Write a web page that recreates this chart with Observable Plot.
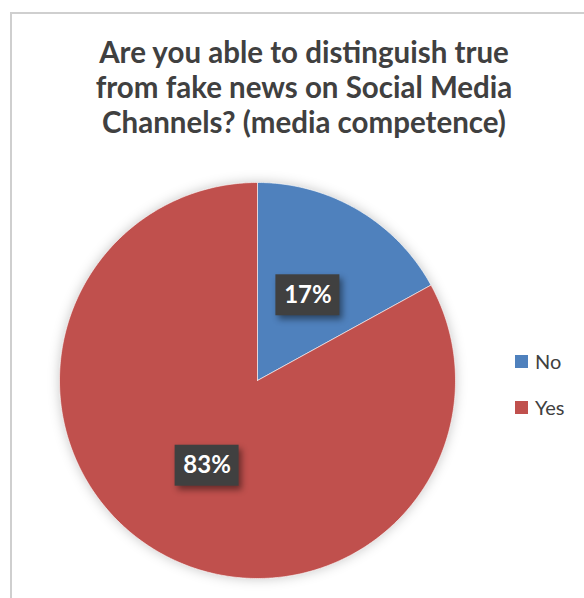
<!DOCTYPE html>
<html>
<head>
<meta charset="utf-8">
<script src="https://cdn.jsdelivr.net/npm/d3@7"></script>
<script src="https://cdn.jsdelivr.net/npm/@observablehq/plot@0.6"></script>
<style>
  body { margin: 0; background: #fff; }
  #wrap { position: relative; width: 584px; height: 598px; overflow: hidden; font-family: Lato, "Open Sans", sans-serif; background: #fff; }
  #border { position: absolute; left: 10px; top: 12px; width: 620px; height: 620px; border-top: 2px solid #cfcfcf; border-left: 2px solid #cfcfcf; box-sizing: border-box; }
  #chart { position: absolute; left: 0; top: 0; }
  #title { position: absolute; left: 10px; width: 588px; top: 34px; text-align: center; font-weight: 700; font-size: 29.5px; line-height: 35px; color: #404040; }
  .leg { position: absolute; left: 515px; display: flex; align-items: center; font-size: 20px; color: #404040; }
  .sw { width: 13px; height: 13px; margin-right: 7px; }
  g[aria-label="line"] { filter: drop-shadow(0 0 6px rgba(0,0,0,0.22)); }
  g[aria-label="rect"] { filter: drop-shadow(3px 4px 3px rgba(0,0,0,0.45)); }
</style>
</head>
<body>
<div id="wrap">
  <div id="border"></div>
  <div id="chart"></div>
  <div id="title">Are you able to distinguish true<br>from fake news on Social Media<br>Channels? (media competence)</div>
  <div id="legend"></div>
</div>
<script>
const categories = ["No", "Yes"];
const values = [17, 83];
const colors = ["#4F81BD", "#C0504D"];
const labels = ["17%", "83%"];

const rows = categories.map((c, i) => ({label: c, value: values[i], text: labels[i], color: colors[i]}));
const arcs = d3.pie().sort(null).value(d => d.value)(rows);

// slice outlines (geometry sampled along each arc)
const pts = [];
for (const a of arcs) {
  pts.push({label: a.data.label, x: 0, y: 0});
  const n = Math.max(2, Math.ceil((a.endAngle - a.startAngle) / 0.01));
  for (let i = 0; i <= n; i++) {
    const t = a.startAngle + (a.endAngle - a.startAngle) * i / n;
    pts.push({label: a.data.label, x: Math.sin(t), y: Math.cos(t)});
  }
  pts.push({label: a.data.label, x: 0, y: 0});
}

const R = 198;
const hw = 32 / R, hh = 20.5 / R;
const lab = arcs.map(a => {
  const m = (a.startAngle + a.endAngle) / 2;
  return {text: a.data.text, x: 0.5 * Math.sin(m), y: 0.5 * Math.cos(m)};
});

const plot = Plot.plot({
  width: 584,
  height: 598,
  margin: 0,
  x: {domain: [-1, 1], range: [257 - R, 257 + R], axis: null},
  y: {domain: [-1, 1], range: [380 + R, 380 - R], axis: null},
  color: {domain: categories, range: colors},
  style: {background: "transparent", overflow: "visible"},
  marks: [
    Plot.line(pts, {x: "x", y: "y", z: "label", fill: "label", stroke: "white", strokeWidth: 0.6, curve: "linear"}),
    Plot.rect(lab, {x1: d => d.x - hw, x2: d => d.x + hw, y1: d => d.y - hh, y2: d => d.y + hh, fill: "#404040"}),
    Plot.text(lab, {x: "x", y: "y", text: "text", fill: "white", fontSize: 24, fontWeight: "bold", fontFamily: "Lato, sans-serif"})
  ]
});
document.getElementById("chart").appendChild(plot);

const legendTops = [349, 395];
const leg = document.getElementById("legend");
categories.forEach((c, i) => {
  const d = document.createElement("div");
  d.className = "leg";
  d.style.top = legendTops[i] + "px";
  d.innerHTML = `<div class="sw" style="background:${colors[i]}"></div><span>${c}</span>`;
  leg.appendChild(d);
});
</script>
</body>
</html>
